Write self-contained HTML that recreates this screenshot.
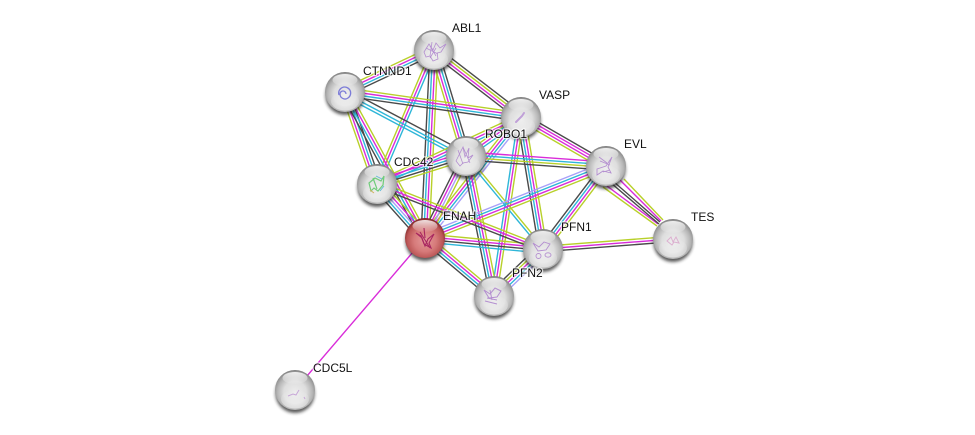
<!DOCTYPE html>
<html><head><meta charset="utf-8">
<style>
html,body{margin:0;padding:0;background:#fff}
svg{display:block}
text{font-family:"Liberation Sans",sans-serif;font-size:12px;fill:#111;paint-order:stroke;stroke:#fff;stroke-width:2.5px;stroke-opacity:.7;stroke-linejoin:round}
line{stroke-width:1.4;vector-effect:non-scaling-stroke;fill:none}
.Y{stroke:#b8d02a}.M{stroke:#d92cd9}.C{stroke:#2eb6d8}.D{stroke:#4a4a4a}.L{stroke:#a8a0f8}
.s{fill:none;filter:url(#sf)}
</style></head><body>
<svg width="975" height="435" viewBox="0 0 975 435" xmlns="http://www.w3.org/2000/svg">
<defs>
<radialGradient id="g" cx="50%" cy="56%" r="56%"><stop offset="0" stop-color="#ededed"/><stop offset=".5" stop-color="#dedede"/><stop offset=".78" stop-color="#b6b6b6"/><stop offset=".93" stop-color="#949494"/><stop offset="1" stop-color="#7a7a7a"/></radialGradient>
<radialGradient id="r" cx="50%" cy="56%" r="56%"><stop offset="0" stop-color="#e49a9a"/><stop offset=".5" stop-color="#d67a7a"/><stop offset=".8" stop-color="#bb5656"/><stop offset="1" stop-color="#7a2222"/></radialGradient>
<linearGradient id="h" x1="0" y1="0" x2="0" y2="1"><stop offset="0" stop-color="#fff" stop-opacity=".85"/><stop offset="1" stop-color="#fff" stop-opacity=".05"/></linearGradient>
<linearGradient id="t" x1="0" y1="0" x2="0" y2="1"><stop offset="0" stop-color="#fff" stop-opacity="0"/><stop offset="1" stop-color="#fff" stop-opacity=".5"/></linearGradient>
<filter id="b" x="-30%" y="-30%" width="160%" height="160%"><feGaussianBlur stdDeviation="1.5"/></filter>
<filter id="sf" x="-20%" y="-20%" width="140%" height="140%"><feGaussianBlur stdDeviation=".35"/></filter>
<g id="YMCD"><line class="Y" x2="1" y1="-4.05" y2="-4.05"/><line class="M" x2="1" y1="-1.35" y2="-1.35"/><line class="C" x2="1" y1="1.35" y2="1.35"/><line class="D" x2="1" y1="4.05" y2="4.05"/></g>
<g id="DCMY"><line class="D" x2="1" y1="-4.05" y2="-4.05"/><line class="C" x2="1" y1="-1.35" y2="-1.35"/><line class="M" x2="1" y1="1.35" y2="1.35"/><line class="Y" x2="1" y1="4.05" y2="4.05"/></g>
<g id="DYMD"><line class="D" x2="1" y1="-4.05" y2="-4.05"/><line class="Y" x2="1" y1="-1.35" y2="-1.35"/><line class="M" x2="1" y1="1.35" y2="1.35"/><line class="D" x2="1" y1="4.05" y2="4.05"/></g>
<g id="YMC"><line class="Y" x2="1" y1="-2.7" y2="-2.7"/><line class="M" x2="1"/><line class="C" x2="1" y1="2.7" y2="2.7"/></g>
<g id="CMY"><line class="C" x2="1" y1="-2.7" y2="-2.7"/><line class="M" x2="1"/><line class="Y" x2="1" y1="2.7" y2="2.7"/></g>
<g id="DC"><line class="D" x2="1" y1="-3" y2="-3"/><line class="C" x2="1" y1="1" y2="1"/><line class="C" x2="1" y1="4" y2="4"/></g>
<g id="YC"><line class="Y" x2="1" y1="-1.35" y2="-1.35"/><line class="C" x2="1" y1="1.35" y2="1.35"/></g>
<g id="DLMY"><line class="D" x2="1" y1="-4.05" y2="-4.05"/><line class="M" x2="1" y1="-1.35" y2="-1.35"/><line class="M" x2="1" y1="1.35" y2="1.35"/><line class="Y" x2="1" y1="4.05" y2="4.05"/></g>
<g id="YMCL"><line class="Y" x2="1" y1="-4.05" y2="-4.05"/><line class="M" x2="1" y1="-1.35" y2="-1.35"/><line class="C" x2="1" y1="1.35" y2="1.35"/><line class="L" x2="1" y1="4.05" y2="4.05"/></g>
<g id="CMYD"><line class="M" x2="1" y1="-4.05" y2="-4.05"/><line class="C" x2="1" y1="-1.35" y2="-1.35"/><line class="Y" x2="1" y1="1.35" y2="1.35"/><line class="D" x2="1" y1="4.05" y2="4.05"/></g>
<g id="MCDY"><line class="M" x2="1" y1="-4.05" y2="-4.05"/><line class="C" x2="1" y1="-1.35" y2="-1.35"/><line class="D" x2="1" y1="1.35" y2="1.35"/><line class="Y" x2="1" y1="4.05" y2="4.05"/></g>
<g id="DMLY"><line class="D" x2="1" y1="-4.05" y2="-4.05"/><line class="M" x2="1" y1="-1.35" y2="-1.35"/><line class="L" x2="1" y1="1.35" y2="1.35"/><line class="Y" x2="1" y1="4.05" y2="4.05"/></g>
<g id="LCMY"><line class="L" x2="1" y1="-4.05" y2="-4.05"/><line class="C" x2="1" y1="-1.35" y2="-1.35"/><line class="M" x2="1" y1="1.35" y2="1.35"/><line class="Y" x2="1" y1="4.05" y2="4.05"/></g>
<g id="YMD"><line class="Y" x2="1" y1="-2.7" y2="-2.7"/><line class="M" x2="1"/><line class="D" x2="1" y1="2.7" y2="2.7"/></g>
<g id="YMDC"><line class="Y" x2="1" y1="-4.05" y2="-4.05"/><line class="M" x2="1" y1="-1.35" y2="-1.35"/><line class="D" x2="1" y1="1.35" y2="1.35"/><line class="C" x2="1" y1="4.05" y2="4.05"/></g>
<g id="DYMLC"><line class="D" x2="1" y1="-5.4" y2="-5.4"/><line class="Y" x2="1" y1="-2.7" y2="-2.7"/><line class="M" x2="1"/><line class="C" x2="1" y1="2.7" y2="2.7"/><line class="L" x2="1" y1="5.4" y2="5.4"/></g>
<g id="YMLCD"><line class="Y" x2="1" y1="-5.4" y2="-5.4"/><line class="M" x2="1" y1="-2.7" y2="-2.7"/><line class="L" x2="1"/><line class="C" x2="1" y1="2.7" y2="2.7"/><line class="D" x2="1" y1="5.4" y2="5.4"/></g>
<g id="n"><ellipse cx="0" cy="3.5" rx="19.500" ry="19.500" fill="#222" opacity=".75" filter="url(#b)"/><circle r="20" fill="url(#g)"/><ellipse cy="9" rx="14" ry="9.500" fill="url(#t)"/><ellipse cy="-12" rx="12.500" ry="6" fill="url(#h)"/></g>
<g id="nr"><ellipse cx="0" cy="3.5" rx="19.500" ry="19.500" fill="#222" opacity=".75" filter="url(#b)"/><circle r="20" fill="url(#r)"/><ellipse cy="-12" rx="12.500" ry="6" fill="url(#h)"/></g>
</defs>

<use href="#YMCD" transform="matrix(89,-42,.427,.904,345,92)"/>
<use href="#DYMD" transform="matrix(87,67,-.61,.792,434,50)"/>
<use href="#DCMY" transform="matrix(32,106,-.957,.289,434,50)"/>
<use href="#YMC" transform="matrix(57,-134,.92,.391,377,184)"/>
<use href="#DCMY" transform="matrix(9,-188,.999,.048,425,238)"/>
<use href="#YMCD" transform="matrix(176,25,-.141,.99,345,92)"/>
<use href="#DC" transform="matrix(121,64,-.468,.884,345,92)"/>
<use href="#DCMY" transform="matrix(32,92,-.945,.329,345,92)"/>
<use href="#YMCD" transform="matrix(80,146,-.877,.48,345,92)"/>
<use href="#YMC" transform="matrix(55,-39,.579,.816,466,156)"/>
<use href="#DLMY" transform="matrix(85,49,-.499,.866,521,117)"/>
<use href="#YMC" transform="matrix(144,-67,.422,.907,377,184)"/>
<use href="#YMCL" transform="matrix(96,-121,.783,.621,425,238)"/>
<use href="#YMCD" transform="matrix(22,132,-.987,.164,521,117)"/>
<use href="#CMY" transform="matrix(27,-179,.989,.149,494,296)"/>
<use href="#CMYD" transform="matrix(140,10,-.071,.997,466,156)"/>
<use href="#MCDY" transform="matrix(89,-28,.3,.954,377,184)"/>
<use href="#DMLY" transform="matrix(41,-82,.894,.447,425,238)"/>
<use href="#YC" transform="matrix(77,93,-.77,.638,466,156)"/>
<use href="#YMCD" transform="matrix(28,140,-.98,.196,466,156)"/>
<use href="#LCMY" transform="matrix(181,-72,.37,.929,425,238)"/>
<use href="#DCMY" transform="matrix(63,-83,.797,.605,543,249)"/>
<use href="#YMD" transform="matrix(130,-10,.077,.997,543,249)"/>
<use href="#YMDC" transform="matrix(118,11,-.093,.996,425,238)"/>
<use href="#DYMLC" transform="matrix(49,-47,.692,.722,494,296)"/>
<use href="#YMD" transform="matrix(166,65,-.365,.931,377,184)"/>
<use href="#YMCD" transform="matrix(69,58,-.644,.766,425,238)"/>
<use href="#YMLCD" transform="matrix(48,54,-.748,.665,377,184)"/>
<line class="Y" x1="603" y1="187" x2="657" y2="226"/>
<line class="M" x1="607" y1="186" x2="658" y2="224"/>
<line class="D" x1="611" y1="183" x2="659" y2="224"/>
<line class="D" x1="614" y1="182" x2="660" y2="222"/>
<line class="M" x1="620" y1="180" x2="661" y2="221"/>
<line class="Y" x1="624" y1="179" x2="663" y2="220"/>
<line class="M" x1="425" y1="238" x2="295" y2="390"/>

<use href="#n" x="434" y="50"/>
<path class="s" d="M424 52l5-8 4 6 3-7 4 5 6-4-5 8-4 1 1 6-5 2-3-5-4 1zM430 46l6 10M436 48l-6 10M426 48l12 6M432 42l-2 14" stroke="#b48fd0" stroke-width=".8"/>
<use href="#n" x="345" y="92"/>
<path class="s" d="M339 95a6 6 0 1 1 9 3a5 5 0 0 1-8-4a3 3 0 1 1 6 0" stroke="#7c7cd8" stroke-width="1.3"/>
<use href="#n" x="521" y="117"/>
<path class="s" d="M516 122l6-6 2-3" stroke="#c0a0d8" stroke-width="2" stroke-linecap="round"/>
<use href="#n" x="466" y="156"/>
<path class="s" d="M456 161l7-14 2 10 4-9-1 10 5-3-5 7-5 1-3 3zM458 150l5 14M463 147l7 16" stroke="#b48fd0" stroke-width=".8"/>
<use href="#n" x="606" y="166"/>
<path class="s" d="M597 169l9-3 6-9-4 10 3 6-8-2-6 4zM599 157l8 6M603 172l7-2M600 161l10 4" stroke="#b48fd0" stroke-width=".9"/>
<use href="#n" x="377" y="184"/>
<path class="s" d="M369 183l6-5 6 3 3-5-1 9-5 6-4-3-3 3zM373 178l4 11" stroke="#70cc7a" stroke-width="1.2"/>
<path class="s" d="M376 176l6 3M380 191l4-5" stroke="#60b8d8" stroke-width=".9"/><path class="s" d="M370 190l4 3" stroke="#d2b060" stroke-width="1"/>
<use href="#n" x="543" y="249"/>
<path class="s" d="M533 243l6 4 5-5 6 2-4 6-8 1zM536 256a2.500 2.500 0 1 0 5 0a2.500 2.500 0 1 0-5 0M545 255a3 2.200 0 1 0 6 0a3 2.200 0 1 0-6 0" stroke="#b48fd0" stroke-width=".9"/>
<use href="#n" x="673" y="239"/>
<path class="s" d="M667 241l4-4 2 5 3-5 3 6-5-1-2 3z" stroke="#dcb0d0" stroke-width="1"/>
<use href="#n" x="494" y="296"/>
<path class="s" d="M484 290l6 4 5-6 6 3-4 6-8 1zM485 301l12 3M487 298l10 2M490 290l2 10" stroke="#b48fd0" stroke-width="1"/>
<use href="#n" x="295" y="390"/>
<path class="s" d="M288 396l5-2 3 1 3-5M304 397l1 2" stroke="#c8a8d8" stroke-width="1"/>
<use href="#nr" x="425" y="238"/>
<path class="s" d="M416 233l6 5 3 8 3-7 6-5-5 9 2 5-7-4-3-8zM420 232l10 16M424 228l1 10" stroke="#a82860" stroke-width="1.1"/>

<text x="452" y="32">ABL1</text>
<text x="363" y="75">CTNND1</text>
<text x="539" y="99">VASP</text>
<text x="485" y="138">ROBO1</text>
<text x="624" y="148">EVL</text>
<text x="394" y="166">CDC42</text>
<text x="443" y="220">ENAH</text>
<text x="561" y="231">PFN1</text>
<text x="691" y="221">TES</text>
<text x="512" y="277">PFN2</text>
<text x="313" y="372">CDC5L</text>
</svg>
</body></html>
